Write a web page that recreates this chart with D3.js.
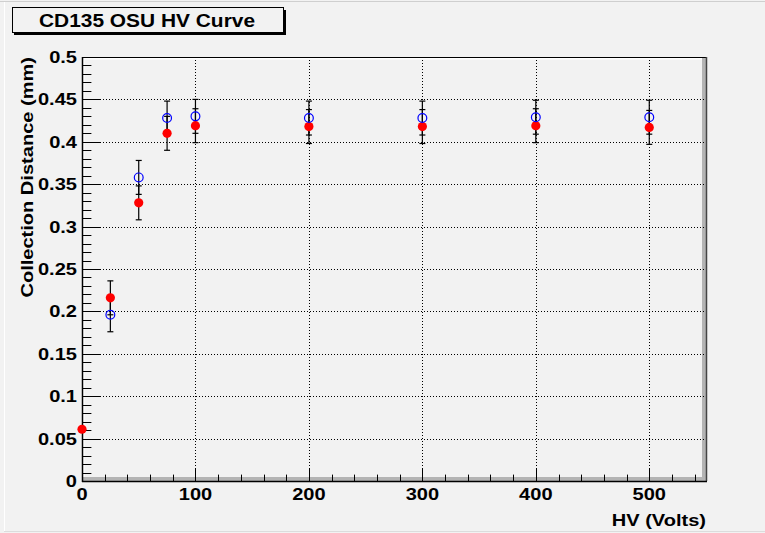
<!DOCTYPE html>
<html><head><meta charset="utf-8">
<script src="https://cdn.jsdelivr.net/npm/d3@7"></script>
<style>
html,body{margin:0;padding:0;background:#f2f2f2;}
svg{display:block;font-family:"Liberation Sans",Arial,Helvetica,sans-serif;}
</style></head>
<body>
<svg id="c" width="765" height="533"></svg>
<script>
const hv = [0, 25, 50, 75, 100, 200, 300, 400, 500];
const redValues = [0.061, 0.216, 0.328, 0.410, 0.419, 0.418, 0.418, 0.419, 0.417];
const redErrors = [0, 0.02, 0.02, 0.02, 0.02, 0.02, 0.02, 0.02, 0.02];
const blueValues = [null, 0.196, 0.358, 0.428, 0.430, 0.428, 0.428, 0.429, 0.429];
const blueErrors = [0, 0.02, 0.02, 0.02, 0.02, 0.02, 0.02, 0.02, 0.02];
const xTicks = [0, 100, 200, 300, 400, 500];
const yTicks = [0, 0.05, 0.1, 0.15, 0.2, 0.25, 0.3, 0.35, 0.4, 0.45, 0.5];
const titleText = "CD135 OSU HV Curve";
const xTitle = "HV (Volts)";
const yTitle = "Collection Distance (mm)";

const svg = d3.select("#c");
const L = 82, R = 706, T = 57, B = 481;
const x = d3.scaleLinear().domain([0, 550]).range([L, R]);
const y = d3.scaleLinear().domain([0, 0.5]).range([B, T]);
const SX = 1.18;

// canvas border
svg.append("line").attr("x1",0).attr("x2",765).attr("y1",1.5).attr("y2",1.5).attr("stroke","#cfcfcf");
svg.append("line").attr("x1",4.5).attr("x2",4.5).attr("y1",2).attr("y2",531).attr("stroke","#ffffff");
svg.append("line").attr("x1",4).attr("x2",765).attr("y1",531.5).attr("y2",531.5).attr("stroke","#dcdcdc");

// frame bevel
svg.append("rect").attr("x",L).attr("y",T).attr("width",R-L).attr("height",B-T).attr("fill","#f2f2f2");
svg.append("rect").attr("x",L).attr("y",B-4).attr("width",R-L).attr("height",4).attr("fill","#b4b4b4");
svg.append("rect").attr("x",R-4).attr("y",T).attr("width",4).attr("height",B-T).attr("fill","#b4b4b4");
svg.append("line").attr("x1",L+1).attr("x2",R-4).attr("y1",T+1.5).attr("y2",T+1.5).attr("stroke","#ffffff").attr("stroke-width",2);
svg.append("line").attr("x1",L+1.5).attr("x2",L+1.5).attr("y1",T+1).attr("y2",B-4).attr("stroke","#ffffff").attr("stroke-width",2);

// grid
const grid = svg.append("g").attr("stroke","#000").attr("stroke-width",1).attr("stroke-dasharray","1,2");
grid.selectAll(".gx").data(xTicks.filter(d => d > 0)).enter().append("line")
  .attr("x1", d => Math.round(x(d)) + 0.5).attr("x2", d => Math.round(x(d)) + 0.5)
  .attr("y1", T).attr("y2", B);
grid.selectAll(".gy").data(yTicks.filter(d => d > 0 && d < 0.5)).enter().append("line")
  .attr("x1", L).attr("x2", R)
  .attr("y1", d => Math.round(y(d)) + 0.5).attr("y2", d => Math.round(y(d)) + 0.5);

// frame outline
svg.append("line").attr("x1",L).attr("x2",R+0.5).attr("y1",T+0.5).attr("y2",T+0.5).attr("stroke","#000");
svg.append("line").attr("x1",R+0.5).attr("x2",R+0.5).attr("y1",T).attr("y2",B).attr("stroke","#444").attr("stroke-width",1.5);

// y axis with inward ticks
const yAx = svg.append("g").attr("transform", `translate(${L},0)`);
yAx.append("line").attr("x1",0.5).attr("x2",0.5).attr("y1",T).attr("y2",B+1).attr("stroke","#000").attr("stroke-width",1.5);
yAx.selectAll(".t").data(d3.range(0, 51)).enter().append("line")
  .attr("x1",0).attr("x2", d => d % 5 === 0 ? 18.7 : 9.4)
  .attr("y1", d => Math.round(y(d/100)) + 0.5).attr("y2", d => Math.round(y(d/100)) + 0.5)
  .attr("stroke","#000");
yAx.selectAll(".l").data(yTicks).enter().append("text")
  .attr("transform", d => `translate(-5,${y(d) + 6}) scale(${SX},1)`)
  .attr("text-anchor","end").attr("font-size",17).attr("font-weight","bold")
  .text(d => d3.format("")(d));

// x axis
const xAx = svg.append("g");
xAx.append("line").attr("x1",L).attr("x2",R+1).attr("y1",B+0.5).attr("y2",B+0.5).attr("stroke","#000").attr("stroke-width",1.5);
xAx.selectAll(".t").data(d3.range(0, 551, 20)).enter().append("line")
  .attr("x1", d => Math.round(x(d)) + 0.5).attr("x2", d => Math.round(x(d)) + 0.5)
  .attr("y1", B).attr("y2", d => d % 100 === 0 ? B - 12.7 : B - 6.4)
  .attr("stroke","#000");
xAx.selectAll(".l").data(xTicks).enter().append("text")
  .attr("transform", d => `translate(${x(d)},500) scale(${SX},1)`)
  .attr("text-anchor","middle").attr("font-size",17).attr("font-weight","bold")
  .text(d => d);

// axis titles
svg.append("text").attr("transform", `translate(${R},526) scale(${SX},1)`).attr("text-anchor","end")
  .attr("font-size",17).attr("font-weight","bold").text(xTitle);
svg.append("text").attr("transform", `translate(33,${T}) rotate(-90) scale(${SX},1)`).attr("text-anchor","end")
  .attr("font-size",17).attr("font-weight","bold").text(yTitle);

// error bars
function errBars(vals, errs) {
  const g = svg.append("g").attr("stroke","#000").attr("stroke-width",1.2);
  hv.forEach((h, i) => {
    const v = vals[i], e = errs[i];
    if (v == null || !e) return;
    const cx = x(h);
    g.append("line").attr("x1",cx).attr("x2",cx).attr("y1",y(v+e)).attr("y2",y(v-e));
    [v+e, v-e].forEach(w => g.append("line").attr("x1",cx-3).attr("x2",cx+3).attr("y1",y(w)).attr("y2",y(w)));
  });
}
errBars(redValues, redErrors);
errBars(blueValues, blueErrors);

// markers
svg.append("g").selectAll("circle").data(hv.map((h,i)=>({h, v: redValues[i]})).filter(d=>d.v!=null))
  .enter().append("circle").attr("cx", d => x(d.h)).attr("cy", d => y(d.v)).attr("r",4.6).attr("fill","#ff0000");
svg.append("g").selectAll("circle").data(hv.map((h,i)=>({h, v: blueValues[i]})).filter(d=>d.v!=null))
  .enter().append("circle").attr("cx", d => x(d.h)).attr("cy", d => y(d.v)).attr("r",4.4)
  .attr("fill","none").attr("stroke","#0000ff").attr("stroke-width",1.2);

// title box
svg.append("rect").attr("x",14).attr("y",10).attr("width",272).attr("height",25).attr("fill","#000");
svg.append("rect").attr("x",12.5).attr("y",7.5).attr("width",271).attr("height",25).attr("fill","#f2f2f2").attr("stroke","#000");
svg.append("text").attr("transform", `translate(147,27) scale(1.1,1)`).attr("text-anchor","middle")
  .attr("font-size",19).attr("font-weight","bold").text(titleText);
</script>
</body></html>
